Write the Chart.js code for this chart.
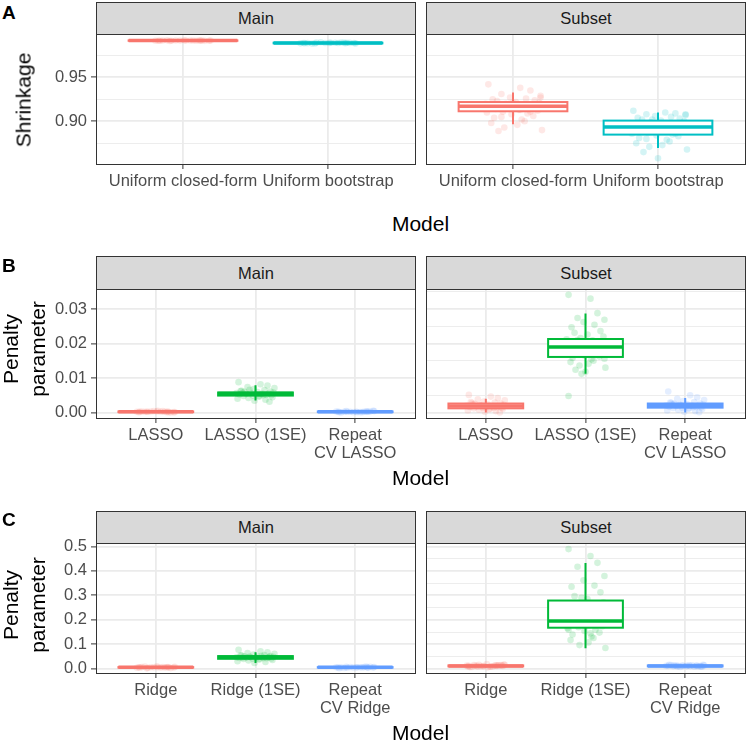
<!DOCTYPE html>
<html>
<head>
<meta charset="utf-8">
<script src="https://cdn.jsdelivr.net/npm/chart.js@4.4.1/dist/chart.umd.min.js"></script>
<style>
body { margin: 0; background: #fff; font-family: 'Liberation Sans', Arial, sans-serif; }
#page { position: relative; width: 747px; height: 741px; overflow: hidden; }
.facet { position: absolute; }
.strip { position: absolute; box-sizing: border-box; background: #D9D9D9; border: 1px solid #333; color: #1A1A1A;
         font-size: 16.5px; display: flex; align-items: center; justify-content: center; z-index: 2; }
.letter { position: absolute; left: 2px; font-weight: bold; font-size: 19px; line-height: 1; }
.xtitle { position: absolute; left: 96px; width: 649px; text-align: center; font-size: 21px; line-height: 1; }
.ytitle { position: absolute; font-size: 21px; line-height: 1.28; text-align: center; white-space: nowrap;
          transform: translate(-50%, -50%) rotate(-90deg); }
</style>
</head>
<body>
<div id="page">
    <div class="facet" style="left:0px;top:28px;width:416px;height:176px"><canvas id="aMain"></canvas></div>
    <div class="facet" style="left:425px;top:28px;width:322px;height:176px"><canvas id="aSub"></canvas></div>
    <div class="facet" style="left:0px;top:283px;width:416px;height:190px"><canvas id="bMain"></canvas></div>
    <div class="facet" style="left:425px;top:283px;width:322px;height:190px"><canvas id="bSub"></canvas></div>
    <div class="facet" style="left:0px;top:537px;width:416px;height:191px"><canvas id="cMain"></canvas></div>
    <div class="facet" style="left:425px;top:537px;width:322px;height:191px"><canvas id="cSub"></canvas></div>

    <div class="letter" style="top:3px">A</div>
    <div class="letter" style="top:256px">B</div>
    <div class="letter" style="top:510px">C</div>

    <div class="strip" style="left:96px;top:2px;width:320px;height:33px">Main</div>
    <div class="strip" style="left:426px;top:2px;width:320px;height:33px">Subset</div>
    <div class="strip" style="left:96px;top:256px;width:320px;height:34px">Main</div>
    <div class="strip" style="left:426px;top:256px;width:320px;height:34px">Subset</div>
    <div class="strip" style="left:96px;top:511px;width:320px;height:33px">Main</div>
    <div class="strip" style="left:426px;top:511px;width:320px;height:33px">Subset</div>

    <div class="ytitle" style="left:24px;top:100px">Shrinkage</div>
    <div class="ytitle" style="left:25px;top:349px">Penalty<br>parameter</div>
    <div class="ytitle" style="left:25px;top:605px">Penalty<br>parameter</div>

    <div class="xtitle" style="top:213px">Model</div>
    <div class="xtitle" style="top:467px">Model</div>
    <div class="xtitle" style="top:722px">Model</div>
</div>

<script>
// categories
const aCats = ['Uniform closed-form', 'Uniform bootstrap']
const bCats = ['LASSO', 'LASSO (1SE)', ['Repeat', 'CV LASSO']]
const cCats = ['Ridge', 'Ridge (1SE)', ['Repeat', 'CV Ridge']]

// y ticks
const aTicks = [0.90, 0.95]
const aTickLabels = ['0.90', '0.95']
const aMinor = [0.875, 0.925, 0.975]
const bTicks = [0.00, 0.01, 0.02, 0.03]
const bTickLabels = ['0.00', '0.01', '0.02', '0.03']
const bMinor = [0.005, 0.015, 0.025, 0.035]
const cTicks = [0.0, 0.1, 0.2, 0.3, 0.4, 0.5]
const cTickLabels = ['0.0', '0.1', '0.2', '0.3', '0.4', '0.5']
const cMinor = [0.05, 0.15, 0.25, 0.35, 0.45]

// box stats per group: [lower whisker, q1, median, q3, upper whisker]
const aMainBoxes = [[0.9912, 0.9915, 0.9917, 0.9919, 0.9922], [0.9880, 0.9886, 0.9890, 0.9893, 0.9899]]
const aSubBoxes = [[0.8966, 0.9114, 0.9170, 0.9219, 0.9326], [0.8697, 0.8849, 0.8935, 0.9008, 0.9099]]
const bMainBoxes = [[0.0000, 0.0001, 0.0002, 0.0003, 0.0006], [0.0035, 0.0049, 0.0055, 0.0058, 0.0079], [0.0000, 0.0001, 0.0002, 0.0003, 0.0006]]
const bSubBoxes = [[0.0000, 0.0012, 0.0019, 0.0026, 0.0040], [0.0112, 0.0161, 0.0190, 0.0213, 0.0287], [0.0000, 0.0014, 0.0020, 0.0026, 0.0042]]
const cMainBoxes = [[0.002, 0.005, 0.006, 0.007, 0.010], [0.024, 0.041, 0.047, 0.052, 0.068], [0.002, 0.005, 0.006, 0.007, 0.010]]
const cSubBoxes = [[0.006, 0.010, 0.012, 0.014, 0.018], [0.084, 0.168, 0.195, 0.279, 0.432], [0.008, 0.010, 0.012, 0.014, 0.017]]

// individual runs (jittered points)
const aMainCF = [0.9916, 0.9918, 0.9917, 0.9915, 0.9919, 0.9917, 0.9916, 0.9918, 0.9914, 0.9920, 0.9917, 0.9915, 0.9918, 0.9916, 0.9919, 0.9917, 0.9913, 0.9921, 0.9916, 0.9918]
const aMainBS = [0.9889, 0.9892, 0.9887, 0.9894, 0.9885, 0.9890, 0.9896, 0.9888, 0.9891, 0.9883, 0.9893, 0.9889, 0.9899, 0.9886, 0.9890, 0.9892, 0.9884, 0.9891, 0.9888, 0.9895]
const aSubCF = [0.942, 0.938, 0.935, 0.931, 0.929, 0.927, 0.926, 0.925, 0.924, 0.923, 0.922, 0.921, 0.920, 0.920, 0.919, 0.918, 0.918, 0.917, 0.917, 0.916, 0.916, 0.915, 0.914, 0.913, 0.912, 0.911, 0.910, 0.909, 0.908, 0.906, 0.904, 0.902, 0.900, 0.898, 0.896, 0.893, 0.890, 0.889, 0.921, 0.919, 0.915, 0.913, 0.911, 0.905, 0.927]
const aSubBS = [0.912, 0.910, 0.909, 0.908, 0.907, 0.906, 0.905, 0.904, 0.903, 0.902, 0.901, 0.900, 0.899, 0.898, 0.897, 0.896, 0.895, 0.894, 0.894, 0.893, 0.892, 0.891, 0.890, 0.889, 0.888, 0.887, 0.886, 0.885, 0.884, 0.883, 0.881, 0.879, 0.877, 0.875, 0.873, 0.871, 0.868, 0.865, 0.858, 0.902, 0.896, 0.891, 0.886, 0.880, 0.908]

const bMainL = [0.0001, 0.0002, 0.0003, 0.0002, 0.0001, 0.0004, 0.0002, 0.0003, 0.0000, 0.0002, 0.0005, 0.0001, 0.0003, 0.0002, 0.0004, 0.0001, 0.0002, 0.0003, 0.0002, 0.0001]
const bMain1SE = [0.0088, 0.0082, 0.0078, 0.0074, 0.0071, 0.0068, 0.0065, 0.0063, 0.0061, 0.0060, 0.0059, 0.0058, 0.0057, 0.0056, 0.0055, 0.0055, 0.0054, 0.0053, 0.0052, 0.0051, 0.0050, 0.0049, 0.0048, 0.0046, 0.0044, 0.0042, 0.0040, 0.0037, 0.0034, 0.0031, 0.0057, 0.0053, 0.0050, 0.0062, 0.0047, 0.0066]
const bMainR = [0.0002, 0.0001, 0.0003, 0.0002, 0.0004, 0.0001, 0.0002, 0.0000, 0.0003, 0.0002, 0.0001, 0.0005, 0.0002, 0.0003, 0.0001, 0.0002, 0.0004, 0.0002, 0.0001, 0.0003]
const bSubL = [0.0051, 0.0046, 0.0042, 0.0038, 0.0035, 0.0032, 0.0029, 0.0027, 0.0026, 0.0025, 0.0023, 0.0022, 0.0021, 0.0020, 0.0019, 0.0019, 0.0018, 0.0017, 0.0016, 0.0015, 0.0014, 0.0013, 0.0012, 0.0011, 0.0010, 0.0008, 0.0006, 0.0004, 0.0002, 0.0000, 0.0024, 0.0018, 0.0013, 0.0030, 0.0009, 0.0021]
const bSub1SE = [0.0341, 0.0330, 0.0288, 0.0274, 0.0269, 0.0262, 0.0254, 0.0247, 0.0236, 0.0231, 0.0226, 0.0220, 0.0216, 0.0212, 0.0209, 0.0205, 0.0201, 0.0198, 0.0195, 0.0192, 0.0190, 0.0188, 0.0185, 0.0182, 0.0178, 0.0175, 0.0171, 0.0168, 0.0165, 0.0162, 0.0158, 0.0154, 0.0150, 0.0146, 0.0141, 0.0136, 0.0130, 0.0124, 0.0118, 0.0112, 0.0048, 0.0190, 0.0172, 0.0210, 0.0156]
const bSubR = [0.0061, 0.0050, 0.0044, 0.0040, 0.0036, 0.0033, 0.0030, 0.0028, 0.0026, 0.0025, 0.0024, 0.0023, 0.0022, 0.0021, 0.0020, 0.0020, 0.0019, 0.0018, 0.0017, 0.0016, 0.0015, 0.0014, 0.0013, 0.0012, 0.0010, 0.0008, 0.0006, 0.0004, 0.0002, 0.0001, 0.0024, 0.0019, 0.0015, 0.0029, 0.0011, 0.0022]

const cMainR = [0.0060, 0.0050, 0.0070, 0.0040, 0.0080, 0.0060, 0.0050, 0.0070, 0.0030, 0.0090, 0.0060, 0.0055, 0.0065, 0.0045, 0.0075, 0.0060, 0.0020, 0.0100, 0.0058, 0.0062]
const cMain1SE = [0.078, 0.072, 0.068, 0.064, 0.061, 0.058, 0.056, 0.054, 0.052, 0.051, 0.050, 0.049, 0.048, 0.047, 0.047, 0.046, 0.046, 0.045, 0.044, 0.043, 0.042, 0.041, 0.040, 0.038, 0.036, 0.034, 0.031, 0.028, 0.024, 0.049, 0.045, 0.053, 0.043, 0.055, 0.039, 0.050]
const cMainCV = [0.0055, 0.0065, 0.0060, 0.0045, 0.0075, 0.0050, 0.0070, 0.0060, 0.0085, 0.0035, 0.0060, 0.0050, 0.0070, 0.0062, 0.0058, 0.0040, 0.0080, 0.0060, 0.0025, 0.0095]
const cSubR = [0.012, 0.010, 0.014, 0.009, 0.016, 0.011, 0.013, 0.008, 0.015, 0.012, 0.006, 0.018, 0.011, 0.013, 0.010, 0.014, 0.012, 0.020, 0.007, 0.012, 0.013, 0.011, 0.015, 0.009, 0.012, 0.016, 0.010, 0.014]
const cSub1SE = [0.489, 0.461, 0.433, 0.417, 0.379, 0.362, 0.340, 0.335, 0.313, 0.297, 0.285, 0.272, 0.262, 0.250, 0.238, 0.226, 0.215, 0.205, 0.198, 0.194, 0.190, 0.186, 0.182, 0.178, 0.174, 0.170, 0.166, 0.160, 0.155, 0.148, 0.140, 0.132, 0.126, 0.118, 0.108, 0.097, 0.085, 0.200, 0.175, 0.290, 0.160, 0.145]
const cSubCV = [0.012, 0.011, 0.013, 0.010, 0.014, 0.012, 0.009, 0.015, 0.011, 0.013, 0.012, 0.016, 0.008, 0.012, 0.014, 0.010, 0.013, 0.011, 0.017, 0.012, 0.010, 0.013, 0.011, 0.014, 0.009, 0.012]

// horizontal jitter offsets (category units)
const JITTER = [-0.17, 0.05, 0.12, -0.08, 0.19, -0.02, 0.09, -0.14, 0.15, -0.11, 0.02, 0.18, -0.05, -0.19, 0.07, 0.13, -0.09, 0.01, -0.16, 0.11,
                0.16, -0.03, -0.12, 0.04, 0.17, -0.07, -0.18, 0.10, -0.01, 0.14, -0.13, 0.06, 0.08, -0.15, 0.03, -0.06, 0.20, -0.10, 0.00, -0.04]

const HUE2 = ['#F8766D', '#00BFC4']
const HUE3 = ['#F8766D', '#00BA38', '#619CFF']
const BOX_HALF = 0.375

const getElementById = (id) => {
    return document.getElementById(id)
}

const fade = (hex, a) => {
    const n = parseInt(hex.slice(1), 16)
    return `rgba(${n >> 16},${(n >> 8) & 255},${n & 255},${a})`
}

// no extra room for edge labels, the frame is fixed by the page layout
const noPadding = s => {
    s.paddingTop = 0
    s.paddingBottom = 0
    s.paddingLeft = 0
    s.paddingRight = 0
}

Chart.defaults.font.family = "'Liberation Sans', Arial, sans-serif"

// draws boxes on top of the points, then the panel frame
const boxplotPlugin = {
    id: 'boxplot',
    afterDatasetsDraw(chart, args, opts) {
        const { ctx, chartArea: a, scales: { x, y } } = chart
        ctx.save()
        ctx.beginPath()
        ctx.rect(a.left, a.top, a.right - a.left, a.bottom - a.top)
        ctx.clip()
        opts.boxes.forEach((b, i) => {
            const [lo, q1, med, q3, hi] = b
            const cx = x.getPixelForValue(i + 1)
            const l = x.getPixelForValue(i + 1 - BOX_HALF)
            const r = x.getPixelForValue(i + 1 + BOX_HALF)
            const top = y.getPixelForValue(q3)
            const bot = y.getPixelForValue(q1)
            ctx.strokeStyle = opts.colors[i]
            ctx.lineWidth = 2
            ctx.beginPath()
            ctx.moveTo(cx, y.getPixelForValue(hi))
            ctx.lineTo(cx, top)
            ctx.moveTo(cx, bot)
            ctx.lineTo(cx, y.getPixelForValue(lo))
            ctx.stroke()
            ctx.fillStyle = '#fff'
            ctx.fillRect(l, top, r - l, bot - top)
            ctx.strokeRect(l, top, r - l, bot - top)
            ctx.lineWidth = 3.5
            ctx.beginPath()
            ctx.moveTo(l, y.getPixelForValue(med))
            ctx.lineTo(r, y.getPixelForValue(med))
            ctx.stroke()
        })
        ctx.restore()
    },
    afterDraw(chart) {
        const { ctx, chartArea: a } = chart
        ctx.save()
        ctx.strokeStyle = '#333333'
        ctx.lineWidth = 1
        ctx.strokeRect(a.left + 0.5, a.top + 0.5, a.right - a.left, a.bottom - a.top)
        ctx.restore()
    }
}

const makeFacet = (id, cfg) => {
    const isMajor = v => cfg.majors.some(m => Math.abs(m - v) < 1e-9)
    const allTicks = [...cfg.majors, ...cfg.minors]
        .filter(v => v >= cfg.yMin && v <= cfg.yMax)
        .sort((p, q) => p - q)

    const datasets = cfg.points.map((vals, g) => ({
        data: vals.map((v, i) => ({ x: g + 1 + JITTER[i % JITTER.length], y: v })),
        backgroundColor: fade(cfg.colors[g], 0.17),
        borderWidth: 0,
        pointRadius: 3.3,
        pointHoverRadius: 3.3
    }))

    new Chart(getElementById(id), {
        type: 'scatter',
        data: { datasets },
        options: {
            responsive: true,
            maintainAspectRatio: false,
            animation: false,
            layout: { autoPadding: false, padding: { top: 6, left: cfg.padLeft, right: cfg.padRight, bottom: 0 } },
            plugins: {
                legend: { display: false },
                tooltip: { enabled: false },
                boxplot: { boxes: cfg.boxes, colors: cfg.colors }
            },
            scales: {
                x: {
                    type: 'linear',
                    min: 0.4,
                    max: cfg.cats.length + 0.6,
                    afterBuildTicks: s => { s.ticks = cfg.cats.map((c, i) => ({ value: i + 1 })) },
                    afterFit: s => { s.height = cfg.xHeight; noPadding(s) },
                    ticks: {
                        callback: (v, i) => cfg.cats[i],
                        color: '#4D4D4D',
                        font: { size: 16.5, lineHeight: 1.05 },
                        padding: 4,
                        autoSkip: false,
                        maxRotation: 0
                    },
                    grid: { color: '#EBEBEB', lineWidth: 1.8, tickColor: '#333333', tickLength: 5, tickWidth: 1 },
                    border: { display: false }
                },
                y: {
                    min: cfg.yMin,
                    max: cfg.yMax,
                    afterBuildTicks: s => { s.ticks = allTicks.map(v => ({ value: v })) },
                    afterFit: s => { s.width = cfg.showY ? 96 : 0; noPadding(s) },
                    ticks: {
                        display: cfg.showY,
                        callback: v => {
                            const k = cfg.majors.findIndex(m => Math.abs(m - v) < 1e-9)
                            return k >= 0 ? cfg.majorLabels[k] : ''
                        },
                        color: '#4D4D4D',
                        font: { size: 16.5 },
                        padding: 4
                    },
                    grid: {
                        color: '#EBEBEB',
                        lineWidth: ctx => isMajor(ctx.tick.value) ? 1.8 : 0.9,
                        drawTicks: cfg.showY,
                        tickLength: 5,
                        tickWidth: 1,
                        tickColor: ctx => isMajor(ctx.tick.value) ? '#333333' : 'rgba(0,0,0,0)'
                    },
                    border: { display: false }
                }
            }
        },
        plugins: [boxplotPlugin]
    })
}

self.addEventListener('DOMContentLoaded', () => {
    const aY = { yMin: 0.8515, yMax: 0.9992, majors: aTicks, majorLabels: aTickLabels, minors: aMinor, xHeight: 40 }
    const bY = { yMin: -0.0016, yMax: 0.0358, majors: bTicks, majorLabels: bTickLabels, minors: bMinor, xHeight: 55 }
    const cY = { yMin: -0.017, yMax: 0.514, majors: cTicks, majorLabels: cTickLabels, minors: cMinor, xHeight: 55 }
    const main = { showY: true, padLeft: 0, padRight: 1 }
    const sub = { showY: false, padLeft: 1, padRight: 2 }

    makeFacet('aMain', { ...aY, ...main, cats: aCats, colors: HUE2, boxes: aMainBoxes, points: [aMainCF, aMainBS] })
    makeFacet('aSub', { ...aY, ...sub, cats: aCats, colors: HUE2, boxes: aSubBoxes, points: [aSubCF, aSubBS] })
    makeFacet('bMain', { ...bY, ...main, cats: bCats, colors: HUE3, boxes: bMainBoxes, points: [bMainL, bMain1SE, bMainR] })
    makeFacet('bSub', { ...bY, ...sub, cats: bCats, colors: HUE3, boxes: bSubBoxes, points: [bSubL, bSub1SE, bSubR] })
    makeFacet('cMain', { ...cY, ...main, cats: cCats, colors: HUE3, boxes: cMainBoxes, points: [cMainR, cMain1SE, cMainCV] })
    makeFacet('cSub', { ...cY, ...sub, cats: cCats, colors: HUE3, boxes: cSubBoxes, points: [cSubR, cSub1SE, cSubCV] })
})
</script>
</body>
</html>
